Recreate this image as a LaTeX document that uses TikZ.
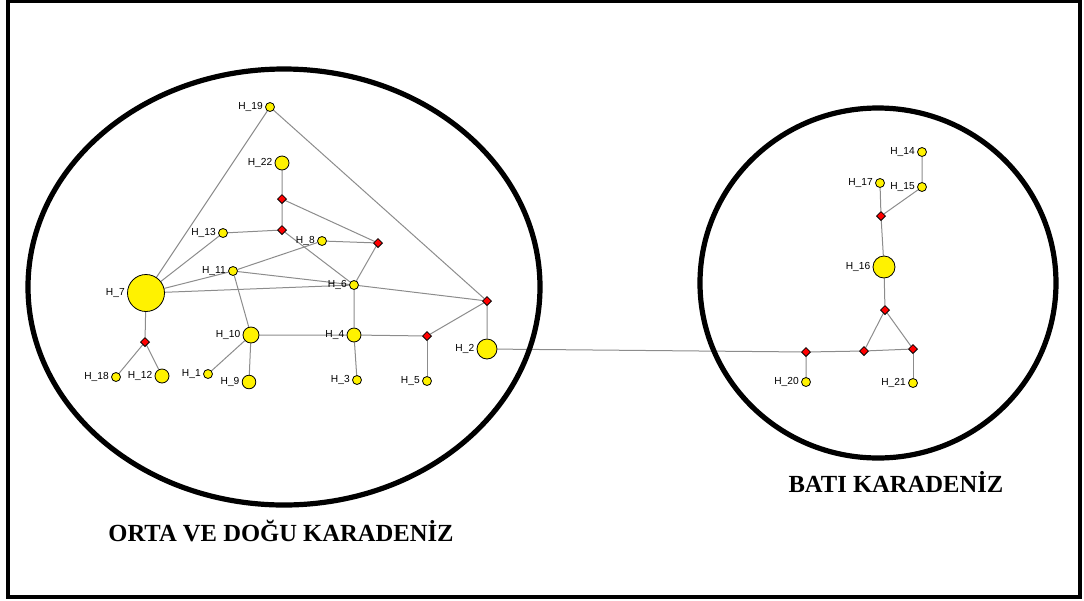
\documentclass[tikz,border=0pt]{standalone}
\usepackage{fontspec}
\setmainfont{Liberation Serif}
\newfontfamily\hapfont{Liberation Sans}
\usetikzlibrary{shapes.geometric,backgrounds}

\begin{document}
\begin{tikzpicture}[x=0.5pt, y=-0.5pt,
    hap/.style={circle, draw=black, line width=0.4pt, fill=yellow, inner sep=0pt, minimum size=#1},
    hap/.default=4.5pt,
    med/.style={diamond, draw=black, line width=0.4pt, fill=red, inner sep=0pt, minimum size=4.6pt},
    lbl/.style={font=\hapfont\fontsize{5.1}{6}\selectfont, inner sep=0.6pt, label distance=0.4pt},
    link/.style={draw=black!45, line width=0.5pt},
    region/.style={draw=black, line width=2.6pt},
    title/.style={font=\bfseries\fontsize{12.3}{14}\selectfont}]
  \useasboundingbox (0,0) rectangle (1084,601);
  \draw[line width=1.6pt] (8,1.5) rectangle (1080,597);

  % orta ve dogu karadeniz
  \node[hap,         label={[lbl]left:H\_19}] (h19) at (270,107) {};
  \node[hap=7pt,     label={[lbl]left:H\_22}] (h22) at (282,163) {};
  \node[med] (m1) at (282,199) {};
  \node[med] (m2) at (282,230) {};
  \node[hap,         label={[lbl]left:H\_13}] (h13) at (223,233) {};
  \node[hap,         label={[lbl]left:H\_8}]  (h8)  at (322,241) {};
  \node[med] (m3) at (378,243) {};
  \node[hap,         label={[lbl]left:H\_11}] (h11) at (233,271) {};
  \node[hap,         label={[lbl]left:H\_6}]  (h6)  at (354,285) {};
  \node[hap=18.5pt,  label={[lbl]left:H\_7}]  (h7)  at (146,293) {};
  \node[med] (m4) at (487,301) {};
  \node[med] (m5) at (145,342) {};
  \node[hap=8pt,     label={[lbl]left:H\_10}] (h10) at (251,335) {};
  \node[hap=7pt,     label={[lbl]left:H\_4}]  (h4)  at (354,335) {};
  \node[med] (m6) at (427,336) {};
  \node[hap=10pt,    label={[lbl]left:H\_2}]  (h2)  at (487,349) {};
  \node[hap,         label={[lbl]left:H\_18}] (h18) at (116,377) {};
  \node[hap=7pt,     label={[lbl]left:H\_12}] (h12) at (162,376) {};
  \node[hap,         label={[lbl]left:H\_1}]  (h1)  at (208,374) {};
  \node[hap=6.8pt,   label={[lbl]left:H\_9}]  (h9)  at (249,382) {};
  \node[hap,         label={[lbl]left:H\_3}]  (h3)  at (357,380) {};
  \node[hap,         label={[lbl]left:H\_5}]  (h5)  at (427,381) {};

  % bati karadeniz
  \node[hap,         label={[lbl]left:H\_14}] (h14) at (922,152) {};
  \node[hap,         label={[lbl]left:H\_17}] (h17) at (880,183) {};
  \node[hap,         label={[lbl]left:H\_15}] (h15) at (922,187) {};
  \node[med] (m7) at (881,216) {};
  \node[hap=11pt,    label={[lbl]left:H\_16}] (h16) at (884,267) {};
  \node[med] (m8) at (885,310) {};
  \node[med] (m9) at (864,351) {};
  \node[med] (m10) at (913,349) {};
  \node[med] (m11) at (806,352) {};
  \node[hap,         label={[lbl]left:H\_20}] (h20) at (806,382) {};
  \node[hap,         label={[lbl]left:H\_21}] (h21) at (913,383) {};

  \begin{scope}[on background layer]
    \draw[link] (h19) -- (h7);
    \draw[link] (h19) -- (m4);
    \draw[link] (h22) -- (m1) -- (m2) -- (h13) -- (h7);
    \draw[link] (m1) -- (m3) -- (h8) -- (h11) -- (h7);
    \draw[link] (m2) -- (h6);
    \draw[link] (m3) -- (h6);
    \draw[link] (h11) -- (h6);
    \draw[link] (h7) -- (h6) -- (m4);
    \draw[link] (h6) -- (h4) -- (h3);
    \draw[link] (h11) -- (h10) -- (h4) -- (m6) -- (m4) -- (h2);
    \draw[link] (m6) -- (h5);
    \draw[link] (h10) -- (h1);
    \draw[link] (h10) -- (h9);
    \draw[link] (h7) -- (m5) -- (h18);
    \draw[link] (m5) -- (h12);
    \draw[link] (h2) -- (m11);
    \draw[link] (h14) -- (h15) -- (m7) -- (h17);
    \draw[link] (m7) -- (h16) -- (m8) -- (m9) -- (m10) -- (m8);
    \draw[link] (m9) -- (m11) -- (h20);
    \draw[link] (m10) -- (h21);
  \end{scope}

  \draw[region] (284,287) ellipse [x radius=256, y radius=218];
  \draw[region] (878,283) ellipse [x radius=178, y radius=175];

  \node[title] (orta) at (281,531) {ORTA VE DOĞU KARADENİZ};
  \node[title] (bati) at (896,482) {BATI KARADENİZ};
\end{tikzpicture}
\end{document}
